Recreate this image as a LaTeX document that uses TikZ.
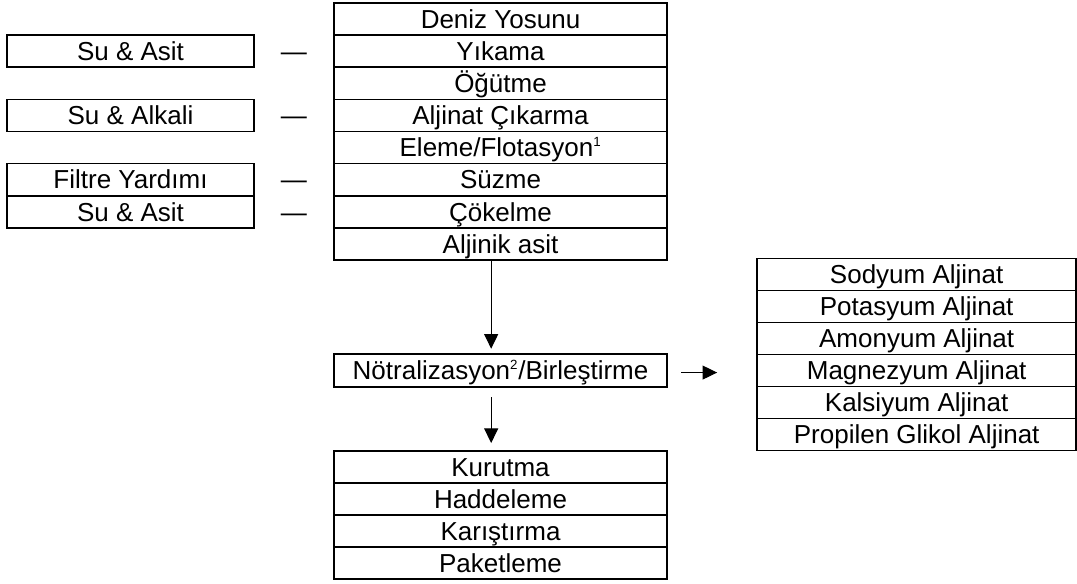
\documentclass[tikz,border=0pt]{standalone}
\usepackage{fontspec}
\setmainfont{Liberation Sans}
\usepackage{tikz}
\usetikzlibrary{shapes,arrows,positioning,calc,arrows.meta}

\begin{document}
\begin{tikzpicture}[x=0.75pt,y=-0.75pt,
        font=\fontsize{19.5}{22}\selectfont,
        every node/.style={text height=13.8pt, text depth=0pt},
        row/.style={draw, line width=1.2pt, minimum width=250pt, minimum height=24.1pt, inner sep=0pt, outer sep=0pt},
        side/.style={draw, line width=1.2pt, minimum width=185pt, minimum height=24.1pt, inner sep=0pt, outer sep=0pt},
        salt/.style={draw, line width=1.2pt, minimum width=239.25pt, minimum height=24pt, inner sep=0pt, outer sep=0pt},
        linkmark/.style={inner sep=0pt},
        flow/.style={line width=0.8pt, -{Triangle[length=11pt,width=10.5pt]}}]
        \useasboundingbox (0,0) rectangle (1077,584);
        % Process column
        \node[row, anchor=north] (deniz) at (500.5,3) {Deniz Yosunu};
        \node[row, below=0pt of deniz] (yikama) {Yıkama};
        \node[row, below=0pt of yikama] (ogutme) {Öğütme};
        \node[row, below=0pt of ogutme] (cikarma) {Aljinat Çıkarma};
        \node[row, below=0pt of cikarma] (eleme) {Eleme/Flotasyon\textsuperscript{\fontsize{10}{10}\selectfont 1}};
        \node[row, below=0pt of eleme] (suzme) {Süzme};
        \node[row, below=0pt of suzme] (cokelme) {Çökelme};
        \node[row, below=0pt of cokelme] (aljinik) {Aljinik asit};
        % Inputs
        \node[side, left=60pt of yikama] (suasit) {Su \& Asit};
        \node[side, left=60pt of cikarma] (sualkali) {Su \& Alkali};
        \node[side, left=60pt of suzme] (filtre) {Filtre Yardımı};
        \node[side, left=60pt of cokelme] (suasitb) {Su \& Asit};
        \node[linkmark, left=20pt of yikama] (la) {—};
        \node[linkmark, left=20pt of cikarma] (lb) {—};
        \node[linkmark, left=20pt of suzme] (lc) {—};
        \node[linkmark, left=20pt of cokelme] (ld) {—};
        % Neutralisation
        \node[row, minimum height=24.75pt, below=70.5pt of aljinik] (notr) {Nötralizasyon\textsuperscript{\fontsize{10}{10}\selectfont 2}/Birleştirme};
        \draw[flow] ([xshift=-7pt]aljinik.south) -- ([xshift=-7pt,yshift=4pt]notr.north);
        % Products
        \node[salt, right=67.5pt of notr] (magnezyum) {Magnezyum Aljinat};
        \node[salt, above=0pt of magnezyum] (amonyum) {Amonyum Aljinat};
        \node[salt, above=0pt of amonyum] (potasyum) {Potasyum Aljinat};
        \node[salt, above=0pt of potasyum] (sodyum) {Sodyum Aljinat};
        \node[salt, below=0pt of magnezyum] (kalsiyum) {Kalsiyum Aljinat};
        \node[salt, below=0pt of kalsiyum] (propilen) {Propilen Glikol Aljinat};
        \draw[flow] ([xshift=10.5pt,yshift=-1.5pt]notr.east) -- ([xshift=-30pt,yshift=-1.5pt]magnezyum.west);
        % Finishing
        \node[row, minimum height=24pt, below=48pt of notr] (kurutma) {Kurutma};
        \node[row, minimum height=24pt, below=0pt of kurutma] (haddeleme) {Haddeleme};
        \node[row, minimum height=24pt, below=0pt of haddeleme] (karistirma) {Karıştırma};
        \node[row, minimum height=24pt, below=0pt of karistirma] (paketleme) {Paketleme};
        \draw[flow] ([xshift=-7pt,yshift=-7.5pt]notr.south) -- ([xshift=-7pt,yshift=6pt]kurutma.north);
\end{tikzpicture}
\end{document}
